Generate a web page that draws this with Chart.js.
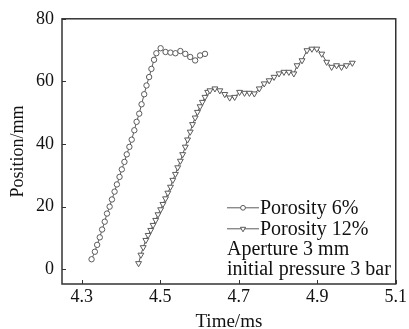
<!DOCTYPE html>
<html>
<head>
<meta charset="utf-8">
<script src="https://cdn.jsdelivr.net/npm/chart.js@4/dist/chart.umd.min.js"></script>
<style>
  html, body { margin: 0; padding: 0; background: #fff; }
  #wrap { position: relative; width: 409px; height: 329px; }
</style>
</head>
<body>
<div id="wrap"><canvas id="c" width="409" height="329"></canvas></div>
<script>
/* ---- Data ---- */
const timeP6 = [4.3253, 4.3337, 4.3395, 4.3462, 4.3521, 4.3588, 4.3646, 4.3713, 4.3772, 4.3839,
  4.3898, 4.3965, 4.4023, 4.409, 4.4149, 4.4216, 4.4275, 4.4342, 4.44, 4.4467,
  4.4526, 4.4593, 4.4652, 4.4719, 4.4777, 4.4844, 4.4903, 4.5012, 4.5137, 4.5263,
  4.5389, 4.5514, 4.564, 4.5766, 4.5891, 4.6017, 4.6142];
const posP6 = [3.2, 5.6, 7.8, 10.2, 12.7, 15.2, 17.8, 20.0, 22.3, 24.8,
  27.1, 29.5, 31.9, 34.3, 36.7, 39.1, 41.4, 44.4, 47.1, 49.7,
  52.7, 55.9, 58.7, 61.4, 64.0, 66.9, 69.0, 70.6, 69.4, 69.2,
  69.0, 69.7, 68.8, 67.8, 66.7, 68.3, 68.8];

const timeP12 = [4.445, 4.4509, 4.4568, 4.4635, 4.4693, 4.476, 4.4819, 4.4886, 4.4945, 4.5012,
  4.507, 4.5137, 4.5196, 4.5263, 4.5322, 4.5389, 4.5447, 4.5514, 4.5573, 4.564,
  4.5698, 4.5765, 4.5824, 4.5891, 4.595, 4.6017, 4.6075, 4.6142, 4.621, 4.6268,
  4.6394, 4.652, 4.6645, 4.6771, 4.6897, 4.7022, 4.7148, 4.7273, 4.7399, 4.7524,
  4.765, 4.7776, 4.7901, 4.8027, 4.8152, 4.8278, 4.8404, 4.8487, 4.8613, 4.8739,
  4.8864, 4.899, 4.9115, 4.9241, 4.9367, 4.9492, 4.9618, 4.9744, 4.9894];
const posP12 = [1.9, 4.6, 7.0, 9.3, 10.9, 12.5, 14.1, 15.7, 17.5, 19.1,
  20.8, 22.6, 24.4, 26.3, 28.5, 30.4, 32.5, 34.6, 36.7, 39.1,
  41.4, 43.9, 46.3, 48.4, 50.2, 52.0, 53.4, 55.0, 56.6, 57.1,
  57.7, 57.1, 55.9, 54.8, 55.0, 56.6, 56.3, 56.3, 56.1, 57.7,
  59.3, 60.3, 61.4, 62.5, 63.0, 63.0, 62.5, 65.1, 66.7, 69.9,
  70.4, 70.4, 68.8, 66.2, 64.6, 65.1, 64.6, 65.1, 65.9];

const xTicks = [4.3, 4.5, 4.7, 4.9, 5.1];
const yTicks = [0, 20, 40, 60, 80];
const seriesLabels = ['Porosity 6%', 'Porosity 12%'];
const noteLines = ['Aperture 3 mm', 'initial pressure 3 bar'];

const FONT = '"Liberation Serif", "DejaVu Serif", serif';
const INK = '#5a5a5a';

function toXY(xs, ys) {
  return xs.map((x, i) => ({ x, y: ys[i] }));
}

/* ---- Frame + inward ticks ---- */
const framePlugin = {
  id: 'frame',
  afterDraw(chart) {
    const { ctx, chartArea: a, scales } = chart;
    ctx.save();
    ctx.strokeStyle = '#333';
    ctx.lineWidth = 1.5;
    ctx.strokeRect(a.left, a.top, a.right - a.left, a.bottom - a.top);
    ctx.lineWidth = 1;
    ctx.beginPath();
    for (const v of xTicks) {
      const px = Math.round(scales.x.getPixelForValue(v)) + 0.5;
      ctx.moveTo(px, a.bottom);
      ctx.lineTo(px, a.bottom - 4);
    }
    for (const v of yTicks) {
      const py = Math.round(scales.y.getPixelForValue(v)) + 0.5;
      ctx.moveTo(a.left, py);
      ctx.lineTo(a.left + 4, py);
    }
    ctx.stroke();
    ctx.restore();
  },
};

/* ---- Legend + notes inside the plot ---- */
const notePlugin = {
  id: 'notes',
  afterDraw(chart) {
    const { ctx, chartArea: a } = chart;
    const x0 = a.left + 165;
    const rows = [a.top + 189, a.top + 210];
    ctx.save();
    ctx.font = '20px ' + FONT;
    ctx.textBaseline = 'middle';
    seriesLabels.forEach((label, i) => {
      const y = rows[i];
      ctx.strokeStyle = INK;
      ctx.lineWidth = 1;
      ctx.beginPath();
      ctx.moveTo(x0, y);
      ctx.lineTo(x0 + 32, y);
      ctx.stroke();
      const ds = chart.data.datasets[i];
      ctx.fillStyle = '#fff';
      ctx.strokeStyle = INK;
      Chart.helpers.drawPoint(ctx, {
        pointStyle: ds.pointStyle,
        radius: i === 0 ? 2.4 : 3,
        rotation: ds.pointRotation || 0,
        borderWidth: 1,
      }, x0 + 16, y);
      ctx.fillStyle = '#111';
      ctx.fillText(label, x0 + 33, y + 1);
    });
    ctx.fillStyle = '#111';
    ctx.fillText(noteLines[0], x0, a.top + 231);
    ctx.fillText(noteLines[1], x0, a.top + 251);
    ctx.restore();
  },
};

new Chart(document.getElementById('c'), {
  type: 'line',
  data: {
    datasets: [
      {
        label: seriesLabels[0],
        data: toXY(timeP6, posP6),
        borderColor: INK,
        borderWidth: 1,
        pointStyle: 'circle',
        pointRadius: 2.7,
        pointBorderWidth: 1,
        pointBorderColor: INK,
        pointBackgroundColor: '#fff',
        tension: 0,
      },
      {
        label: seriesLabels[1],
        data: toXY(timeP12, posP12),
        borderColor: INK,
        borderWidth: 1,
        pointStyle: 'triangle',
        pointRotation: 180,
        pointRadius: 3.4,
        pointBorderWidth: 1,
        pointBorderColor: INK,
        pointBackgroundColor: '#fff',
        tension: 0,
      },
    ],
  },
  options: {
    animation: false,
    responsive: false,
    layout: { padding: { top: 18, right: 8, left: 7, bottom: 0 } },
    plugins: { legend: { display: false }, tooltip: { enabled: false } },
    scales: {
      x: {
        type: 'linear',
        min: 4.25,
        max: 5.1,
        afterBuildTicks: (s) => { s.ticks = xTicks.map((v) => ({ value: v })); },
        afterFit: (s) => { s.height = 45; },
        grid: { display: false, drawTicks: false },
        border: { display: false },
        ticks: {
          color: '#111',
          font: { family: FONT, size: 18 },
          padding: 2,
          maxRotation: 0,
          callback: (v) => v.toFixed(1),
        },
        title: {
          display: true,
          text: 'Time/ms',
          color: '#111',
          font: { family: FONT, size: 19 },
          padding: { top: 0, bottom: -4 },
        },
      },
      y: {
        min: -4.7,
        max: 80,
        afterBuildTicks: (s) => { s.ticks = yTicks.map((v) => ({ value: v })); },
        afterFit: (s) => { s.width = 55; },
        grid: { display: false, drawTicks: false },
        border: { display: false },
        ticks: {
          color: '#111',
          font: { family: FONT, size: 18 },
          padding: 8,
        },
        title: {
          display: true,
          text: 'Position/mm',
          color: '#111',
          font: { family: FONT, size: 18 },
          padding: { top: 0, bottom: 0 },
        },
      },
    },
  },
  plugins: [framePlugin, notePlugin],
});
</script>
</body>
</html>
